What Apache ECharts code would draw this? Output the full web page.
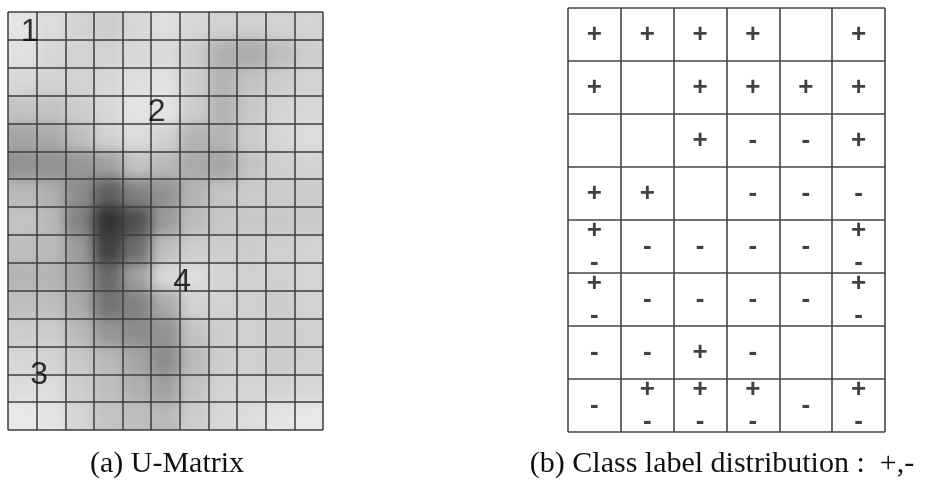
<!DOCTYPE html>
<html>
<head>
<meta charset="utf-8">
<script src="https://cdn.jsdelivr.net/npm/echarts@6/dist/echarts.min.js"></script>
<style>
  html, body { margin: 0; padding: 0; background: #fff; }
  #page { position: relative; width: 938px; height: 481px; }
  #umatWrap { position: absolute; left: 8px; top: 12px; width: 315px; height: 418px; overflow: hidden; }
  .umat { position: absolute; left: 0; top: 0; width: 315px; height: 418px; }
  #umatSoft { filter: blur(7px); }
  #chart { position: absolute; left: 0; top: 0; width: 938px; height: 481px; }
</style>
</head>
<body>
<div id="page">
  <div id="umatWrap">
    <div id="umatBase" class="umat"></div>
    <div id="umatSoft" class="umat"></div>
  </div>
  <div id="chart"></div>
</div>
<script>
// U-Matrix distances, one row per map row (top to bottom), 11 columns
const uRows = [
  [27, 35, 45, 50, 40, 33, 40, 45, 47, 45, 43],
  [30, 40, 45, 45, 40, 37, 50, 80, 85, 65, 50],
  [40, 45, 45, 40, 33, 30, 50, 75, 60, 50, 45],
  [60, 60, 50, 40, 27, 27, 50, 75, 55, 43, 40],
  [90, 85, 65, 45, 35, 45, 75, 75, 50, 40, 35],
  [110, 110, 105, 95, 60, 70, 85, 90, 60, 47, 45],
  [70, 80, 115, 160, 125, 110, 75, 60, 52, 52, 52],
  [60, 70, 125, 205, 175, 100, 67, 57, 55, 55, 53],
  [65, 70, 100, 190, 145, 65, 50, 50, 50, 47, 45],
  [75, 75, 95, 150, 95, 40, 33, 43, 47, 47, 42],
  [65, 65, 85, 140, 125, 85, 45, 45, 47, 50, 45],
  [50, 50, 70, 105, 115, 110, 60, 50, 47, 52, 47],
  [40, 45, 55, 70, 90, 115, 70, 50, 47, 52, 47],
  [35, 35, 50, 65, 80, 95, 60, 45, 42, 45, 40],
  [23, 27, 43, 60, 65, 70, 50, 40, 35, 27, 23]
]

// cluster numbers written on the U-Matrix: [column, row, label]
const clusterLabels = [
  [0.76, 0.73, '1'],
  [5.19, 3.58, '2'],
  [1.09, 13.02, '3'],
  [6.08, 9.71, '4']
]

// class labels per map cell (6 x 8), '+-' means both classes
const classRows = [
  ['+', '+', '+', '+', '', '+'],
  ['+', '', '+', '+', '+', '+'],
  ['', '', '+', '-', '-', '+'],
  ['+', '+', '', '-', '-', '-'],
  ['+-', '-', '-', '-', '-', '+-'],
  ['+-', '-', '-', '-', '-', '+-'],
  ['-', '-', '+', '-', '', ''],
  ['-', '+-', '+-', '+-', '-', '+-']
]

const captions = ['(a) U-Matrix', '(b) Class label distribution :  +,-']

const nCols = uRows[0].length
const nRows = uRows.length

// heatmap: a sharp copy underneath and a blurred copy on top
const heatData = []
uRows.forEach((row, r) => row.forEach((v, c) => heatData.push([c, r, v])))

const heatOption = {
  animation: false,
  grid: { left: 0, right: 0, top: 0, bottom: 0 },
  xAxis: { type: 'category', data: [...Array(nCols).keys()], show: false },
  yAxis: { type: 'category', data: [...Array(nRows).keys()], inverse: true, show: false },
  visualMap: { show: false, min: 0, max: 255, inRange: { color: ['#ffffff', '#000000'] } },
  series: [{ type: 'heatmap', data: heatData, itemStyle: { borderWidth: 0 } }]
}
echarts.init(document.getElementById('umatBase')).setOption(heatOption)
echarts.init(document.getElementById('umatSoft')).setOption(heatOption)

// overlay: grid lines, numbers, class labels, captions
const plus = [], minus = []
classRows.forEach((row, r) => row.forEach((s, c) => {
  const both = s.length === 2
  if (s.indexOf('+') >= 0) plus.push([c + 0.5, r + (both ? 0.21 : 0.5)])
  if (s.indexOf('-') >= 0) minus.push([c + 0.5, r + (both ? 0.81 : 0.5)])
}))

const cellAxis = (max, idx, color, width) => ({
  type: 'value', gridIndex: idx, min: 0, max: max, interval: 1,
  axisLabel: { show: false }, axisTick: { show: false }, axisLine: { show: false },
  splitLine: { show: true, showMinLine: true, showMaxLine: true, lineStyle: { color: color, width: width } }
})

const signLabel = (txt) => ({
  show: true, position: 'inside', formatter: txt,
  fontFamily: 'Liberation Sans', fontSize: 26, fontWeight: 'bold', color: '#111'
})

const chart = echarts.init(document.getElementById('chart'))
chart.setOption({
  animation: false,
  grid: [
    { left: 8, top: 12, width: 315, height: 418 },
    { left: 568, top: 8, width: 317, height: 424 }
  ],
  xAxis: [cellAxis(nCols, 0, 'rgba(60,60,60,0.75)', 2), cellAxis(classRows[0].length, 1, '#444', 1.6)],
  yAxis: [
    Object.assign(cellAxis(nRows, 0, 'rgba(60,60,60,0.75)', 2), { inverse: true }),
    Object.assign(cellAxis(classRows.length, 1, '#444', 1.6), { inverse: true })
  ],
  series: [
    {
      type: 'scatter', xAxisIndex: 0, yAxisIndex: 0, symbolSize: 0, data: clusterLabels,
      label: {
        show: true, position: 'inside', formatter: p => p.value[2],
        fontFamily: 'Liberation Sans', fontSize: 32, color: '#000'
      }
    },
    { type: 'scatter', xAxisIndex: 1, yAxisIndex: 1, symbolSize: 0, data: plus, label: signLabel('+') },
    { type: 'scatter', xAxisIndex: 1, yAxisIndex: 1, symbolSize: 0, data: minus, label: signLabel('-') }
  ],
  graphic: [
    {
      type: 'text', x: 167, y: 464,
      style: { text: captions[0], align: 'center', verticalAlign: 'middle', font: '30px "Liberation Serif"', fill: '#111' }
    },
    {
      type: 'text', x: 722, y: 464,
      style: { text: captions[1], align: 'center', verticalAlign: 'middle', font: '30px "Liberation Serif"', fill: '#111' }
    }
  ]
})
</script>
</body>
</html>
